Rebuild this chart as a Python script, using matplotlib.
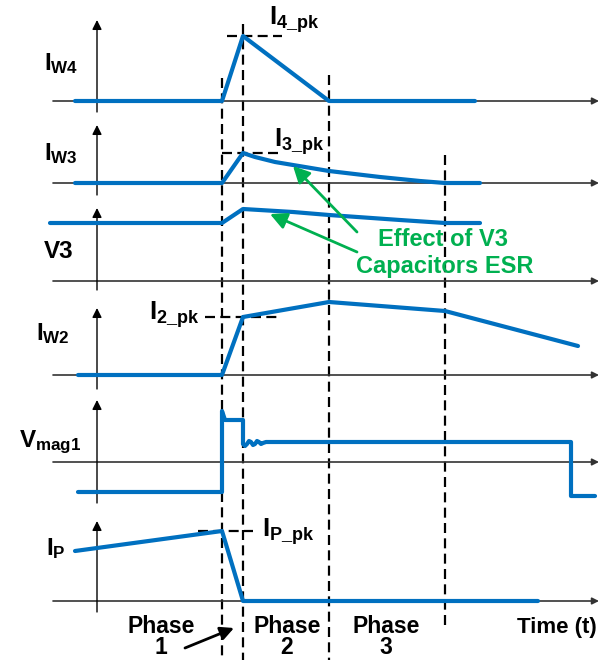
import numpy as np
import matplotlib
matplotlib.use('Agg')
import matplotlib.pyplot as plt

plt.rcParams['font.family'] = 'Liberation Sans'
plt.rcParams['font.weight'] = 'bold'
plt.rcParams['mathtext.fontset'] = 'custom'
plt.rcParams['mathtext.rm'] = 'Liberation Sans:bold'
plt.rcParams['mathtext.it'] = 'Liberation Sans:bold'
plt.rcParams['mathtext.bf'] = 'Liberation Sans:bold'

BLUE = '#0070c0'
GREEN = '#00b050'

# switching instants on the time axis
t_edges = [222, 243, 329, 445]

# waveforms: time points / level above each channel's zero line
iw4_t = [75, 222, 243, 329, 475]
iw4_v = [0, 0, 65, 0, 0]

iw3_t = [75, 222, 243, 255, 275, 293, 329, 380, 420, 445, 480]
iw3_v = [0, 0, 30, 26, 21, 18, 12, 6, 2, 0, 0]

v3_t = [50, 222, 243, 293, 329, 400, 445, 480]
v3_v = [58, 58, 72, 69, 66, 61, 58, 58]

iw2_t = [78, 222, 243, 329, 445, 578]
iw2_v = [0, 0, 58, 73, 64, 29]

vmag_t = [78, 222, 222, 225, 243, 243, 245, 247, 249, 251, 253, 255, 257, 259,
          261, 263, 266, 270, 571, 571, 595]
vmag_v = [-30, -30, 51, 42, 42, 18, 16, 18, 21, 20, 17, 18, 21, 20, 18, 19, 20, 20,
          20, -34, -34]

ip_t = [75, 222, 243, 538]
ip_v = [50, 70, 0, 0]

labels = [r'$I_{W4}$', r'$I_{W3}$', 'V3', r'$I_{W2}$', r'$V_{mag1}$', r'$I_{P}$']
phase_names = ['Phase', 'Phase', 'Phase']
phase_nums = ['1', '2', '3']

# layout: zero line y, axis arrow top, axis bottom, label anchor
channels = [
    (iw4_t, iw4_v, 101, 20, 112, (44, 70)),
    (iw3_t, iw3_v, 183, 125, 195, (44, 160)),
    (v3_t, v3_v, 281, 208, 290, (44, 258)),
    (iw2_t, iw2_v, 375, 308, 389, (36, 340)),
    (vmag_t, vmag_v, 462, 400, 503, (19, 447)),
    (ip_t, ip_v, 601, 521, 612, (46, 555)),
]

fig = plt.figure(figsize=(5.99, 6.60), dpi=100)
ax = fig.add_axes([0, 0, 1, 1])
ax.set_xlim(0, 599)
ax.set_ylim(660, 0)
ax.axis('off')

for (t, v, base, top, bot, lpos), lab in zip(channels, labels):
    # time axis and vertical axis
    ax.annotate('', xy=(599, base), xytext=(53, base),
                arrowprops=dict(arrowstyle='-|>', color='#333333', lw=1.2,
                                mutation_scale=10, shrinkA=0, shrinkB=0))
    ax.annotate('', xy=(97, top), xytext=(97, bot),
                arrowprops=dict(arrowstyle='-|>', color='black', lw=1.0,
                                mutation_scale=14, shrinkA=0, shrinkB=0))
    ax.plot(t, base - np.array(v), color=BLUE, lw=3, solid_capstyle='round',
            solid_joinstyle='round', zorder=3)
    ax.text(lpos[0], lpos[1], lab, fontsize=17.5, ha='left', va='baseline')

# phase boundaries
dash = dict(color='black', lw=1.6, linestyle=(0, (4.5, 2.4)), zorder=2)
ax.plot([t_edges[0]] * 2, [78, 660], **dash)
ax.plot([t_edges[1]] * 2, [24, 660], **dash)
ax.plot([t_edges[2]] * 2, [75, 660], **dash)
ax.plot([t_edges[3]] * 2, [155, 630], **dash)

# peak markers
ax.plot([227, 282], [101 - max(iw4_v)] * 2, **dash)
ax.plot([222, 278], [183 - max(iw3_v)] * 2, **dash)
ax.plot([205, 280], [375 - iw2_v[2]] * 2, **dash)
ax.plot([198, 253], [601 - max(ip_v)] * 2, **dash)

ax.text(269, 25, r'$I_{4\_pk}$', fontsize=18.5, ha='left', va='baseline')
ax.text(274, 147, r'$I_{3\_pk}$', fontsize=18.5, ha='left', va='baseline')
ax.text(149, 320, r'$I_{2\_pk}$', fontsize=18.5, ha='left', va='baseline')
ax.text(262, 537, r'$I_{P\_pk}$', fontsize=18.5, ha='left', va='baseline')

# ESR annotation
ax.text(443, 240, 'Effect of V3', color=GREEN, fontsize=17, ha='center', va='center')
ax.text(445, 266, 'Capacitors ESR', color=GREEN, fontsize=17, ha='center', va='center')
green_arrow = dict(arrowstyle='-|>', color=GREEN, lw=2, mutation_scale=25,
                   shrinkA=0, shrinkB=0)
ax.annotate('', xy=(293, 166), xytext=(357, 232), arrowprops=green_arrow)
ax.annotate('', xy=(270, 214), xytext=(357, 252), arrowprops=green_arrow)

# phase labels
for x, name, num in zip([161, 287, 386], phase_names, phase_nums):
    ax.text(x, 633, name, fontsize=16.5, ha='center', va='baseline')
    ax.text(x, 654, num, fontsize=16.5, ha='center', va='baseline')
ax.text(597, 627, 'Time (t)', fontsize=16, ha='right', va='center')
ax.annotate('', xy=(234, 628), xytext=(185, 648),
            arrowprops=dict(arrowstyle='-|>', color='black', lw=2,
                            mutation_scale=20, shrinkA=0, shrinkB=0))

fig.savefig('out.png', dpi=100)
